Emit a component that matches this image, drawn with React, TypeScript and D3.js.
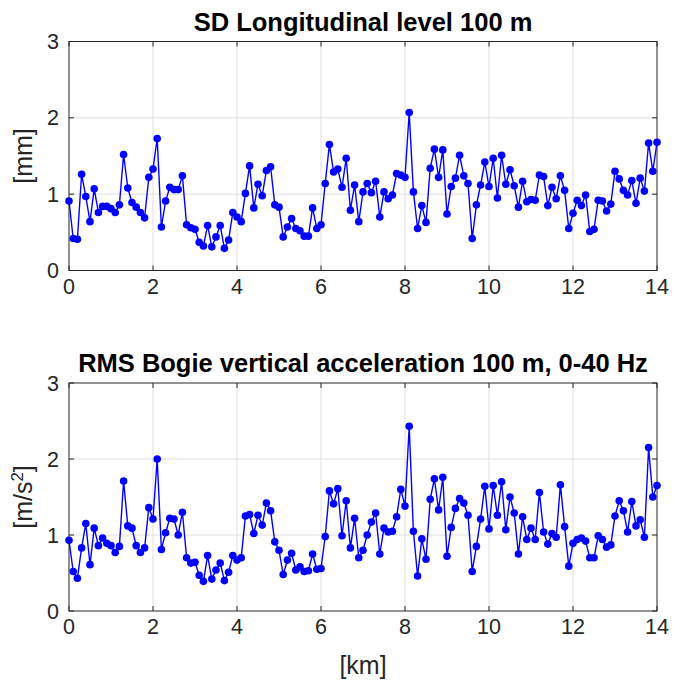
import React from 'react';
import * as d3 from 'd3';

// distance grid step 0.1 km from 0 to 14 km
const kmStart = 0;
const kmEnd = 14;
const kmStep = 0.1;

const sdLevel = [
  0.91, 0.42, 0.41, 1.26, 0.97, 0.64, 1.07, 0.76, 0.84, 0.84,
  0.81, 0.76, 0.86, 1.52, 1.08, 0.89, 0.83, 0.76, 0.69, 1.22,
  1.33, 1.73, 0.57, 0.91, 1.09, 1.06, 1.06, 1.24, 0.60, 0.56,
  0.54, 0.37, 0.32, 0.59, 0.31, 0.44, 0.59, 0.29, 0.40, 0.76,
  0.70, 0.64, 1.01, 1.37, 0.82, 1.13, 0.98, 1.31, 1.36, 0.86,
  0.83, 0.44, 0.57, 0.68, 0.55, 0.52, 0.45, 0.45, 0.82, 0.55,
  0.60, 1.14, 1.65, 1.29, 1.33, 1.09, 1.47, 0.79, 1.12, 0.64,
  1.03, 1.14, 1.02, 1.17, 0.70, 1.03, 0.94, 0.99, 1.27, 1.25,
  1.22, 2.07, 1.03, 0.55, 0.85, 0.63, 1.34, 1.59, 1.22, 1.58,
  0.74, 1.10, 1.21, 1.51, 1.24, 1.14, 0.42, 0.86, 1.12, 1.42,
  1.10, 1.47, 0.95, 1.51, 1.13, 1.32, 1.11, 0.83, 1.17, 0.90,
  0.93, 0.92, 1.25, 1.23, 0.85, 1.09, 0.94, 1.24, 1.05, 0.55,
  0.75, 0.92, 0.85, 0.99, 0.51, 0.54, 0.92, 0.91, 0.78, 0.87,
  1.30, 1.20, 1.05, 0.99, 1.18, 0.88, 1.21, 1.04, 1.67, 1.30,
  1.68,
];

const rmsBogie = [
  0.93, 0.52, 0.43, 0.83, 1.15, 0.61, 1.09, 0.86, 0.96, 0.89,
  0.86, 0.77, 0.85, 1.71, 1.12, 1.09, 0.86, 0.77, 0.83, 1.36,
  1.21, 2.00, 0.81, 1.03, 1.22, 1.21, 1.00, 1.30, 0.70, 0.63,
  0.64, 0.47, 0.39, 0.73, 0.42, 0.54, 0.63, 0.40, 0.51, 0.73,
  0.67, 0.70, 1.25, 1.27, 1.02, 1.26, 1.13, 1.42, 1.32, 0.91,
  0.80, 0.48, 0.67, 0.76, 0.54, 0.58, 0.52, 0.53, 0.75, 0.55,
  0.56, 0.98, 1.58, 1.41, 1.61, 0.99, 1.45, 0.83, 1.22, 0.70,
  0.80, 1.00, 1.17, 1.29, 0.75, 1.09, 1.04, 1.05, 1.24, 1.60,
  1.38, 2.43, 1.05, 0.46, 0.95, 0.68, 1.47, 1.74, 1.33, 1.76,
  0.72, 1.10, 1.35, 1.48, 1.42, 1.26, 0.52, 0.85, 1.21, 1.64,
  1.08, 1.65, 1.26, 1.70, 1.07, 1.50, 1.29, 0.75, 1.24, 0.94,
  1.09, 0.94, 1.56, 1.04, 0.88, 1.02, 0.97, 1.66, 1.11, 0.59,
  0.89, 0.94, 0.96, 0.92, 0.70, 0.70, 0.99, 0.94, 0.84, 0.87,
  1.25, 1.45, 1.32, 1.04, 1.44, 1.12, 1.20, 0.97, 2.15, 1.50,
  1.65,
];

const xTicks = [0, 2, 4, 6, 8, 10, 12, 14];
const yTicks = [0, 1, 2, 3];
const titles = ['SD Longitudinal level 100 m', 'RMS Bogie vertical acceleration 100 m, 0-40 Hz'];
const xLabel = '[km]';

const W = 673;
const H = 684;
const LEFT = 69;
const RIGHT = 657;
const AX = '#262626';
const GRID = '#e0e0e0';
const BLUE = '#0000ff';
const FONT = '"Liberation Sans", Arial, Helvetica, sans-serif';

function Panel({ values, top, bottom, title, ylabel }: any) {
  const km = values.map((_: number, i: number) => kmStart + i * kmStep);
  const x = d3.scaleLinear().domain([kmStart, kmEnd]).range([LEFT, RIGHT]);
  const y = d3.scaleLinear().domain([0, 3]).range([bottom, top]);
  const line = d3
    .line<number>()
    .x((_, i) => x(km[i]))
    .y((d) => y(d));
  const tl = 5;
  return (
    <g>
      {xTicks.slice(1, -1).map((t) => (
        <line key={'gx' + t} x1={x(t)} x2={x(t)} y1={top} y2={bottom} stroke={GRID} strokeWidth={1} />
      ))}
      {yTicks.slice(1, -1).map((t) => (
        <line key={'gy' + t} x1={LEFT} x2={RIGHT} y1={y(t)} y2={y(t)} stroke={GRID} strokeWidth={1} />
      ))}
      {xTicks.map((t) => (
        <g key={'tx' + t}>
          <line x1={x(t)} x2={x(t)} y1={bottom} y2={bottom - tl} stroke={AX} />
          <line x1={x(t)} x2={x(t)} y1={top} y2={top + tl} stroke={AX} />
          <text x={x(t)} y={bottom + 23} textAnchor="middle" fontSize={21.5} fill={AX} fontFamily={FONT}>
            {t}
          </text>
        </g>
      ))}
      {yTicks.map((t) => (
        <g key={'ty' + t}>
          <line x1={LEFT} x2={LEFT + tl} y1={y(t)} y2={y(t)} stroke={AX} />
          <line x1={RIGHT} x2={RIGHT - tl} y1={y(t)} y2={y(t)} stroke={AX} />
          <text x={LEFT - 10} y={y(t) + 7.5} textAnchor="end" fontSize={21.5} fill={AX} fontFamily={FONT}>
            {t}
          </text>
        </g>
      ))}
      <rect x={LEFT} y={top} width={RIGHT - LEFT} height={bottom - top} fill="none" stroke={AX} strokeWidth={1} />
      <path d={line(values) || ''} fill="none" stroke={BLUE} strokeWidth={1.4} />
      {values.map((v: number, i: number) => (
        <circle key={i} cx={x(km[i])} cy={y(v)} r={3.8} fill={BLUE} />
      ))}
      <text
        x={(LEFT + RIGHT) / 2}
        y={top - 11}
        textAnchor="middle"
        fontSize={25.5}
        fontWeight="bold"
        fill="#000"
        fontFamily={FONT}
      >
        {title}
      </text>
      <text
        transform={`translate(${32},${(top + bottom) / 2}) rotate(-90)`}
        textAnchor="middle"
        fontSize={25}
        fill={AX}
        fontFamily={FONT}
      >
        {ylabel}
      </text>
    </g>
  );
}

export default function App() {
  return (
    <svg
      width={W}
      height={H}
      style={{ position: 'absolute', left: 0, top: 0, background: '#fff' }}
    >
      <rect x={0} y={0} width={W} height={H} fill="#fff" />
      <Panel values={sdLevel} top={41.5} bottom={270.5} title={titles[0]} ylabel="[mm]" />
      <Panel
        values={rmsBogie}
        top={383}
        bottom={611}
        title={titles[1]}
        ylabel={
          <>
            [m/s<tspan baselineShift="super" fontSize={17}>2</tspan>]
          </>
        }
      />
      <text x={(LEFT + RIGHT) / 2} y={674} textAnchor="middle" fontSize={25} fill={AX} fontFamily={FONT}>
        {xLabel}
      </text>
    </svg>
  );
}
